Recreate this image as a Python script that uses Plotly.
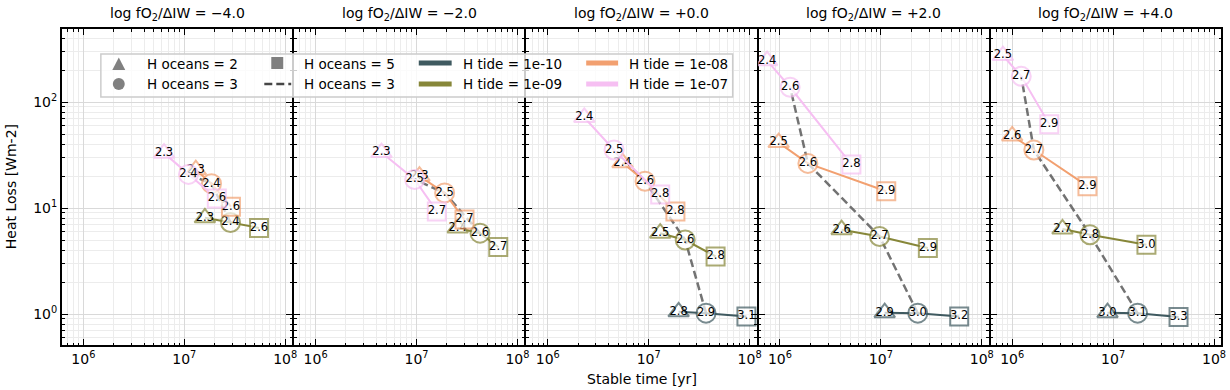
import math
import plotly.graph_objects as go
from plotly.subplots import make_subplots

# ---------------- data ----------------
fo2_values = [-4.0, -2.0, 0.0, 2.0, 4.0]
tide_values = ["1e-10", "1e-09", "1e-08", "1e-07"]
ocean_values = [2, 3, 5]

# stable time [yr] and heat loss per panel (fO2) for oceans = 2, 3, 5 ; None = no run
time_t10 = [None, None, [1.98e7, 3.7e7, 9.3e7], [1.09e7, 2.32e7, 5.97e7], [8.8e6, 1.75e7, 4.45e7]]
heat_t10 = [None, None, [1.05, 1.02, 0.95], [1.03, 1.02, 0.95], [1.03, 1.02, 0.94]]
label_t10 = [None, None, [2.8, 2.9, 3.1], [2.9, 3.0, 3.2], [3.0, 3.1, 3.3]]

time_t9 = [[1.6e7, 2.87e7, 5.5e7], [2.56e7, 4.26e7, 6.46e7], [1.3e7, 2.3e7, 4.6e7], [4.08e6, 9.7e6, 2.92e7], [3.15e6, 5.9e6, 2.14e7]]
heat_t9 = [[8.1, 7.3, 6.5], [6.5, 5.8, 4.3], [5.8, 5.0, 3.5], [6.25, 5.4, 4.2], [6.35, 5.6, 4.5]]
label_t9 = [[2.3, 2.4, 2.6], [2.4, 2.6, 2.7], [2.5, 2.6, 2.8], [2.6, 2.7, 2.9], [2.7, 2.8, 3.0]]

time_t8 = [[1.3e7, 1.86e7, 2.9e7], [1.07e7, 1.9e7, 2.99e7], [5.5e6, 9.2e6, 1.84e7], [9.7e5, 1.89e6, 1.13e7], [1.0e6, 1.64e6, 5.57e6]]
heat_t8 = [[23, 17, 10.3], [20, 13.9, 7.8], [26.8, 17.9, 9.3], [41.5, 26.4, 14.4], [48, 35.3, 16.1]]
label_t8 = [[2.3, 2.4, 2.6], [2.3, 2.5, 2.7], [2.4, 2.6, 2.8], [2.5, 2.6, 2.9], [2.6, 2.7, 2.9]]

time_t7 = [[6.3e6, 1.1e7, 2.1e7], [4.5e6, 9.6e6, 1.59e7], [2.3e6, 4.54e6, 1.3e7], [7.45e5, 1.26e6, 5.1e6], [8.1e5, 1.23e6, 2.33e6]]
heat_t7 = [[33, 20.8, 12.3], [33.4, 18.6, 9.3], [71.6, 35.3, 13.4], [246, 138, 25.8], [275, 175, 61.9]]
label_t7 = [[2.3, 2.4, 2.6], [2.3, 2.5, 2.7], [2.4, 2.5, 2.8], [2.4, 2.6, 2.8], [2.5, 2.7, 2.9]]

x_tick_vals = [1e6, 1e7, 1e8]
x_tick_text = ["10<sup>6</sup>", "10<sup>7</sup>", "10<sup>8</sup>"]
y_tick_vals = [1, 10, 100]
y_tick_text = ["10<sup>0</sup>", "10<sup>1</sup>", "10<sup>2</sup>"]

# ---------------- styles ----------------
tide_colors = ["#3f5a60", "#878739", "#f2a070", "#f6bff2"]
FONT = "DejaVu Sans"
symbols = ["triangle-up", "circle", "square"]
msizes = [18, 19, 18]

series = [
    (time_t10, heat_t10, label_t10),
    (time_t9, heat_t9, label_t9),
    (time_t8, heat_t8, label_t8),
    (time_t7, heat_t7, label_t7),
]

W, H = 1230, 390
P_LEFT, P_RIGHT, P_TOP, P_BOTTOM = 61, 1226, 28, 346
ML, MR, MT, MB = P_LEFT, W - P_RIGHT, P_TOP, H - P_BOTTOM
PW = P_RIGHT - P_LEFT
PH = P_BOTTOM - P_TOP


def px_x(px):
    return (px - P_LEFT) / PW


def px_y(py):
    return (P_BOTTOM - py) / PH


fig = make_subplots(rows=1, cols=5, shared_yaxes=True, horizontal_spacing=0)

for i in range(5):
    col = i + 1
    # dashed connector through the "H oceans = 3" runs
    dx, dy = [], []
    for (tt, hh, ll) in series:
        if tt[i] is not None:
            dx.append(tt[i][1])
            dy.append(hh[i][1])
    fig.add_trace(go.Scatter(x=dx, y=dy, mode="lines",
                             line=dict(color="rgba(90,90,90,0.85)", width=2.5, dash="8px,4px"),
                             hoverinfo="skip", showlegend=False), row=1, col=col)
    for k, (tt, hh, ll) in enumerate(series):
        if tt[i] is None:
            continue
        fig.add_trace(go.Scatter(
            x=tt[i], y=hh[i], mode="lines+markers+text",
            text=[f"{v:.1f}" for v in ll[i]], textposition="middle center",
            textfont=dict(family=FONT, size=11.5, color="black"),
            line=dict(color=tide_colors[k], width=2),
            marker=dict(symbol=symbols, size=msizes, color="white",
                        line=dict(color=tide_colors[k], width=2)),
            showlegend=False, hoverinfo="skip"), row=1, col=col)

minor_x = [m * 10 ** e for e in range(5, 9) for m in range(2, 10)]
minor_y = [m * 10 ** e for e in range(-1, 3) for m in range(2, 10)]

axis_common = dict(type="log", showline=True, linecolor="black", linewidth=1,
                   mirror="allticks", ticks="inside", ticklen=7, tickwidth=1.4,
                   tickcolor="black", showgrid=True, gridcolor="#d9d9d9", gridwidth=1,
                   zeroline=False,
                   tickfont=dict(family=FONT, size=14, color="black"))

for i in range(5):
    dom = [i / 5, (i + 1) / 5]
    fig.update_layout({f"xaxis{'' if i == 0 else i + 1}": dict(
        axis_common, domain=dom,
        range=[math.log10(6e5), math.log10(1.2e8)],
        tickmode="array", tickvals=x_tick_vals, ticktext=x_tick_text,
        minor=dict(tickmode="array", tickvals=minor_x, ticks="inside", ticklen=3.5,
                   tickwidth=1, tickcolor="black", showgrid=True,
                   gridcolor="#ececec", gridwidth=1))})
    fig.update_layout({f"yaxis{'' if i == 0 else i + 1}": dict(
        axis_common,
        range=[math.log10(0.5), math.log10(500)],
        tickmode="array", tickvals=y_tick_vals, ticktext=y_tick_text,
        minor=dict(tickmode="array", tickvals=minor_y, ticks="inside", ticklen=3.5,
                   tickwidth=1, tickcolor="black", showgrid=True,
                   gridcolor="#ececec", gridwidth=1))})

annotations = []
for i, v in enumerate(fo2_values):
    s = f"{v:+.1f}".replace("-", "\u2212")
    annotations.append(dict(text=f"log fO<sub>2</sub>/\u0394IW = {s}", x=(i + 0.5) / 5, y=px_y(14),
                            xref="paper", yref="paper", showarrow=False,
                            font=dict(family=FONT, size=14, color="black"),
                            xanchor="center", yanchor="middle"))
annotations.append(dict(text="Stable time [yr]", x=0.5, y=px_y(379), xref="paper", yref="paper",
                        showarrow=False, font=dict(family=FONT, size=14, color="black"),
                        xanchor="center", yanchor="middle"))
annotations.append(dict(text="Heat Loss [Wm-2]", x=px_x(11), y=0.5, xref="paper", yref="paper",
                        showarrow=False, textangle=-90, font=dict(family=FONT, size=14, color="black"),
                        xanchor="center", yanchor="middle"))

shapes = []
# outer frame (thicker spine)
shapes.append(dict(type="rect", xref="paper", yref="paper", x0=0, x1=1, y0=0, y1=1,
                   line=dict(color="black", width=2), fillcolor="rgba(0,0,0,0)"))

# ---------------- legend (drawn manually) ----------------
shapes.append(dict(type="rect", xref="paper", yref="paper",
                   x0=px_x(101), x1=px_x(735), y0=px_y(97), y1=px_y(54),
                   fillcolor="rgba(255,255,255,0.8)", line=dict(color="#cccccc", width=1.5)))
gray = "#808080"
tx, ty = 119, 64
shapes.append(dict(type="path", xref="paper", yref="paper",
                   path=f"M {px_x(tx - 6.5)},{px_y(ty + 6)} L {px_x(tx + 6.5)},{px_y(ty + 6)} L {px_x(tx)},{px_y(ty - 6.5)} Z",
                   fillcolor=gray, line=dict(width=0)))
cx, cy = 119, 84
shapes.append(dict(type="circle", xref="paper", yref="paper",
                   x0=px_x(cx - 6), x1=px_x(cx + 6), y0=px_y(cy + 6), y1=px_y(cy - 6),
                   fillcolor=gray, line=dict(width=0)))
sx, sy = 278, 63
shapes.append(dict(type="rect", xref="paper", yref="paper",
                   x0=px_x(sx - 6), x1=px_x(sx + 6), y0=px_y(sy + 6), y1=px_y(sy - 6),
                   fillcolor=gray, line=dict(width=0)))
shapes.append(dict(type="line", xref="paper", yref="paper",
                   x0=px_x(265), x1=px_x(292), y0=px_y(84), y1=px_y(84),
                   line=dict(color="rgba(50,50,50,0.9)", width=2.5, dash="8px,4px")))
line_pos = [(420, 453, 63), (420, 453, 84), (588, 620, 63), (588, 620, 84)]
for k, (a, b, yy) in enumerate(line_pos):
    shapes.append(dict(type="line", xref="paper", yref="paper",
                       x0=px_x(a), x1=px_x(b), y0=px_y(yy), y1=px_y(yy),
                       line=dict(color=tide_colors[k], width=5)))

legend_texts = [
    (145, 64, f"H oceans = {ocean_values[0]}"),
    (145, 84, f"H oceans = {ocean_values[1]}"),
    (303, 64, f"H oceans = {ocean_values[2]}"),
    (303, 84, f"H oceans = {ocean_values[1]}"),
    (462, 64, f"H tide = {tide_values[0]}"),
    (462, 84, f"H tide = {tide_values[1]}"),
    (629, 64, f"H tide = {tide_values[2]}"),
    (629, 84, f"H tide = {tide_values[3]}"),
]
for (x, y, t) in legend_texts:
    annotations.append(dict(text=t, x=px_x(x), y=px_y(y), xref="paper", yref="paper",
                            showarrow=False, xanchor="left", yanchor="middle",
                            font=dict(family=FONT, size=13.5, color="black")))

fig.update_layout(width=W, height=H, margin=dict(l=ML, r=MR, t=MT, b=MB),
                  plot_bgcolor="white", paper_bgcolor="white",
                  showlegend=False, annotations=annotations, shapes=shapes,
                  font=dict(family=FONT, color="black"))

# remove the default 8px page margin so the figure fills the window exactly
fig.write_html("out.html", config={"displayModeBar": False},
               post_script="document.body.style.margin='0px';")
